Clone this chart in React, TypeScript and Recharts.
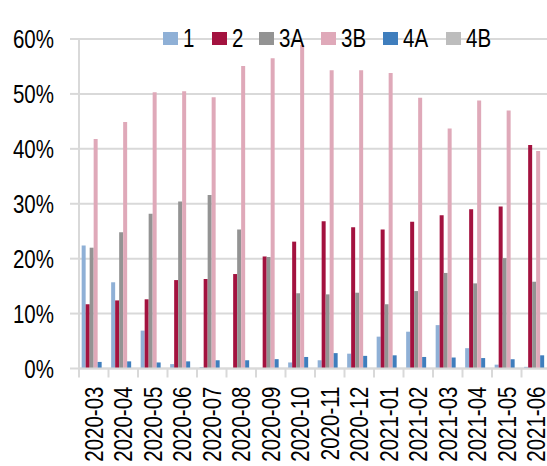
import React from "react";
import { BarChart, Bar, XAxis, YAxis, CartesianGrid } from "recharts";

// month labels
const months = [
  "2020-03", "2020-04", "2020-05", "2020-06", "2020-07", "2020-08",
  "2020-09", "2020-10", "2020-11", "2020-12", "2021-01", "2021-02",
  "2021-03", "2021-04", "2021-05", "2021-06",
];

// shares in %
const s1 = [22.4, 15.7, 6.9, 0.8, 0.25, 0, 0, 1.1, 1.5, 2.7, 5.8, 6.7, 7.9, 3.7, 0.7, 0.3];
const s2 = [11.7, 12.4, 12.6, 16.1, 16.3, 17.2, 20.4, 23.1, 26.8, 25.7, 25.3, 26.7, 27.9, 29.0, 29.5, 40.7];
const s3A = [22.0, 24.8, 28.2, 30.4, 31.6, 25.3, 20.3, 13.7, 13.5, 13.8, 11.7, 14.1, 17.4, 15.5, 20.1, 15.8];
const s3B = [41.8, 44.9, 50.3, 50.5, 49.4, 55.1, 56.5, 58.9, 54.3, 54.3, 53.8, 49.3, 43.7, 48.8, 47.0, 39.6];
const s4A = [1.2, 1.3, 1.1, 1.3, 1.5, 1.5, 1.7, 2.1, 2.8, 2.3, 2.4, 2.1, 2.0, 1.9, 1.7, 2.4];
const s4B = [0, 0, 0, 0, 0, 0, 0, 0, 0, 0, 0, 0, 0, 0, 0, 0];

const yTicks = [0, 10, 20, 30, 40, 50, 60];

const series = [
  { key: "1", color: "#8FB0D6", lx: 163 },
  { key: "2", color: "#A3123F", lx: 212 },
  { key: "3A", color: "#939393", lx: 259 },
  { key: "3B", color: "#DFA9B9", lx: 321 },
  { key: "4A", color: "#3F7EBD", lx: 383 },
  { key: "4B", color: "#BDBDBD", lx: 446 },
];

const data = months.map((m, i) => ({
  month: m,
  "1": s1[i],
  "2": s2[i],
  "3A": s3A[i],
  "3B": s3B[i],
  "4A": s4A[i],
  "4B": s4B[i],
}));

// no narrow font available, so squeeze Liberation Sans horizontally
const FONT = "'Liberation Sans', Arial, sans-serif";
const SQ = 0.82;
const GRID = "#d9d9d9";

const MonthTick = (props: any) => {
  const { x, y, payload } = props;
  const half = payload && payload.offset ? payload.offset : 14.75;
  return (
    <g>
      <line x1={x - half} y1={y} x2={x - half} y2={y + 9} stroke={GRID} strokeWidth={2} />
      <text
        transform={`translate(${x}, ${y + 18}) rotate(-90) scale(${SQ}, 1)`}
        textAnchor="end"
        dy="0.36em"
        fill="#000"
        fontSize={25}
        fontFamily={FONT}
      >
        {payload.value}
      </text>
    </g>
  );
};

const PctTick = (props: any) => {
  const { x, y, payload } = props;
  return (
    <text
      transform={`translate(${x}, ${y}) scale(${SQ}, 1)`}
      textAnchor="end"
      dy="0.36em"
      fill="#000"
      fontSize={25}
      fontFamily={FONT}
    >
      {`${payload.value}%`}
    </text>
  );
};

const LegendBox = () => (
  <div style={{ position: "absolute", left: 0, top: 24, width: 547, height: 28, fontFamily: FONT, fontSize: 25, color: "#000" }}>
    {series.map((s) => (
      <div key={s.key} style={{ position: "absolute", left: s.lx, top: 0, display: "flex", alignItems: "center", height: 28 }}>
        <span style={{ width: 15, height: 13, background: s.color, marginRight: 5, display: "inline-block" }} />
        <span style={{ lineHeight: "28px", display: "inline-block", transform: `scaleX(${SQ})`, transformOrigin: "left center" }}>
          {s.key}
        </span>
      </div>
    ))}
  </div>
);

export default function App() {
  return (
    <div style={{ position: "absolute", left: 0, top: 0, width: 547, height: 466, overflow: "hidden", background: "#fff" }}>
      <BarChart
        width={552}
        height={466}
        data={data}
        margin={{ top: 39, right: 1, bottom: 0, left: 0 }}
        barCategoryGap="9%"
        barGap={0}
      >
        <CartesianGrid vertical={false} stroke={GRID} strokeWidth={2} />
        <XAxis
          dataKey="month"
          height={97.5}
          interval={0}
          axisLine={{ stroke: GRID, strokeWidth: 2 }}
          tickLine={false}
          tickSize={0}
          tickMargin={0}
          tick={<MonthTick />}
        />
        <YAxis
          width={79}
          domain={[0, 60]}
          ticks={yTicks}
          axisLine={{ stroke: GRID, strokeWidth: 2 }}
          tickLine={{ stroke: GRID, strokeWidth: 2 }}
          tickSize={9}
          tickMargin={16}
          tick={<PctTick />}
        />
        {series.map((s) => (
          <Bar key={s.key} dataKey={s.key} fill={s.color} isAnimationActive={false} />
        ))}
      </BarChart>
      <LegendBox />
    </div>
  );
}
